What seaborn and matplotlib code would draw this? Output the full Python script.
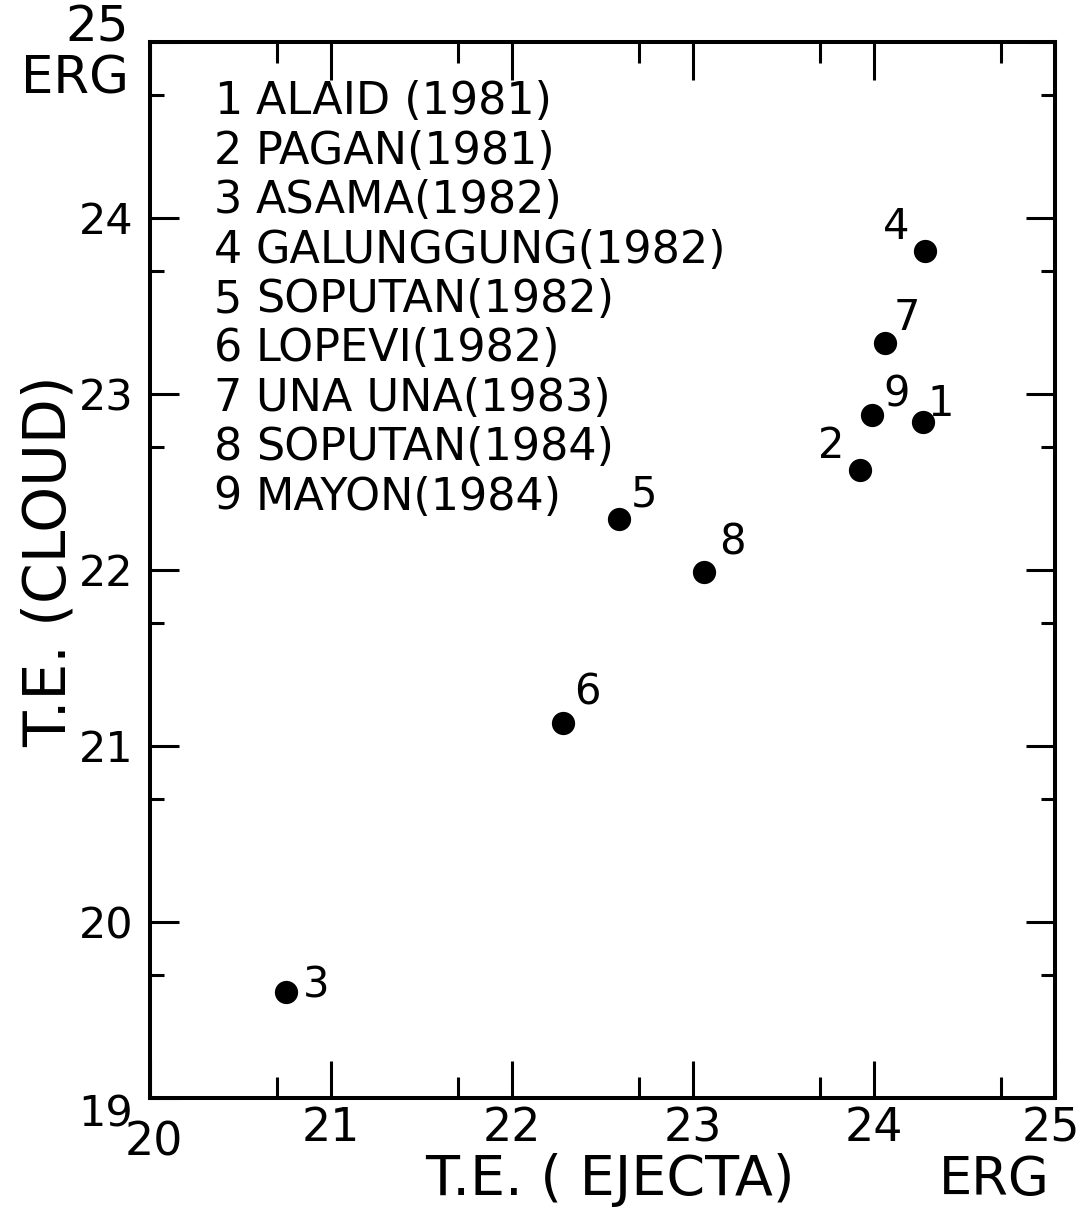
import numpy as np
import pandas as pd
import matplotlib
matplotlib.use("Agg")
import matplotlib.pyplot as plt
import seaborn as sns
from matplotlib.transforms import ScaledTranslation

# Eruption data: log10 thermal energy (erg) of ejecta vs. eruption cloud
event_ids = ["1", "2", "3", "4", "5", "6", "7", "8", "9"]
event_names = ["ALAID (1981)", "PAGAN(1981)", "ASAMA(1982)", "GALUNGGUNG(1982)",
               "SOPUTAN(1982)", "LOPEVI(1982)", "UNA UNA(1983)", "SOPUTAN(1984)",
               "MAYON(1984)"]
te_ejecta = [24.27, 23.92, 20.75, 24.28, 22.59, 22.28, 24.06, 23.06, 23.99]
te_cloud = [22.84, 22.57, 19.60, 23.81, 22.29, 21.13, 23.29, 21.99, 22.88]

x_major = [20, 21, 22, 23, 24, 25]
y_major = [19, 20, 21, 22, 23, 24, 25]
x_ticklabels = ["20", "21", "22", "23", "24", "25"]
y_ticklabels = ["19", "20", "21", "22", "23", "24", "25"]

df = pd.DataFrame({"id": event_ids, "ejecta": te_ejecta, "cloud": te_cloud})

sns.set_style("ticks")
FONT = ["DejaVu Sans"]
plt.rcParams["font.family"] = FONT
plt.rcParams["text.color"] = "black"
plt.rcParams["axes.labelcolor"] = "black"
plt.rcParams["xtick.color"] = "black"
plt.rcParams["ytick.color"] = "black"

fig = plt.figure(figsize=(10.84, 12.09), dpi=100)
ax = fig.add_axes([150 / 1084, 1 - 1098 / 1209, 905 / 1084, 1056 / 1209])

sns.scatterplot(data=df, x="ejecta", y="cloud", s=280, color="black",
                edgecolor="black", linewidth=0, legend=False, ax=ax, zorder=3)

ax.set_xlim(20, 25)
ax.set_ylim(19, 25)

# minor ticks at 5 x 10^n
log5 = np.log10(5)
ax.set_xticks(x_major)
ax.set_xticks([v + log5 for v in x_major[:-1]], minor=True)
ax.set_yticks(y_major)
ax.set_yticks([v + log5 for v in y_major[:-1]], minor=True)
ax.set_xticklabels(x_ticklabels)
ax.set_yticklabels(y_ticklabels)

ax.tick_params(axis="both", which="both", direction="in", top=True, right=True,
               width=2.2, color="black")
ax.tick_params(axis="x", which="major", length=27, pad=6, labelsize=33)
ax.tick_params(axis="x", which="minor", length=15)
ax.tick_params(axis="y", which="major", length=21, pad=12, labelsize=31)
ax.tick_params(axis="y", which="minor", length=10)

# corner labels sit slightly off their ticks
xl = ax.get_xticklabels()
xl[0].set_transform(xl[0].get_transform() + ScaledTranslation(4 / 100, -14 / 100, fig.dpi_scale_trans))
xl[-1].set_transform(xl[-1].get_transform() + ScaledTranslation(-4 / 100, 0, fig.dpi_scale_trans))
yl = ax.get_yticklabels()
yl[-1].set_transform(yl[-1].get_transform() + ScaledTranslation(-4 / 100, 20 / 100, fig.dpi_scale_trans))
yl[-1].set_fontsize(36)
yl[0].set_transform(yl[0].get_transform() + ScaledTranslation(0, -12 / 100, fig.dpi_scale_trans))

for sp in ax.spines.values():
    sp.set_linewidth(2.9)
    sp.set_color("black")

# point numbers
label_offsets = {"1": (18, -18), "2": (-28, -24), "3": (30, -7), "4": (-28, -24),
                 "5": (25, -24), "6": (25, -31), "7": (22, -25), "8": (29, -29),
                 "9": (24, -21)}
for i, x, y in zip(df["id"], df["ejecta"], df["cloud"]):
    dx, dy = label_offsets[i]
    ax.annotate(i, (x, y), xytext=(dx * 0.72, -dy * 0.72), textcoords="offset points",
                ha="center", va="center", fontsize=30)

# key to the numbered eruptions
y0 = (1098 - 102) / 1056
step = 49.4 / 1056
for k, (i, name) in enumerate(zip(event_ids, event_names)):
    yy = y0 - k * step
    ax.text(0.086, yy, i, transform=ax.transAxes, ha="center", va="center",
            fontsize=32)
    ax.text(0.117, yy, name, transform=ax.transAxes, ha="left", va="center",
            fontsize=32)

ax.set_xlabel("T.E. ( EJECTA)", fontsize=40, va="center")
ax.xaxis.set_label_coords(0.508, -(1180 - 1098) / 1056)
ax.set_ylabel("T.E. (CLOUD)", fontsize=42, va="center")
ax.yaxis.set_label_coords(-0.112, 0.508)

ax.text(0.933, -(1180 - 1098) / 1056, "ERG", transform=ax.transAxes,
        ha="center", va="center", fontsize=38)
ax.text(-0.083, (1098 - 80) / 1056, "ERG", transform=ax.transAxes,
        ha="center", va="center", fontsize=37)

fig.savefig("out.png", dpi=100)
